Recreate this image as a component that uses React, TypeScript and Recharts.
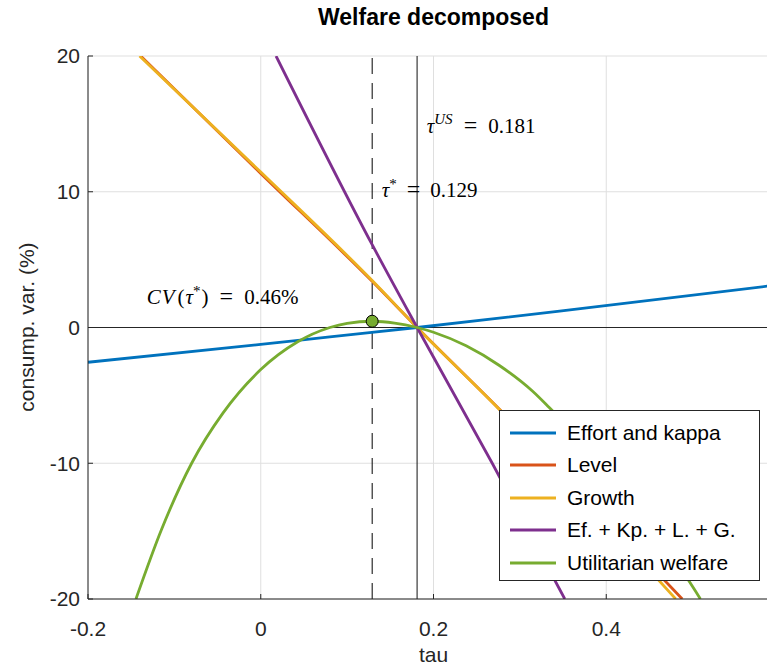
import React from 'react';
import { LineChart, Line, XAxis, YAxis, CartesianGrid, ReferenceLine, ReferenceDot } from 'recharts';

// ---- data ----
const effortTau = [-0.2, 0, 0.08, 0.181, 0.346, 0.6];
const effortCV = [-2.56, -1.25, -0.69, 0, 1.2, 3.15];

const levelTau = [-0.139, 0, 0.129, 0.181, 0.276, 0.488];
const levelCV = [20, 11.35, 3.4, 0, -6.0, -20];

const growthTau = [-0.1403, 0, 0.129, 0.181, 0.2763, 0.4805];
const growthCV = [20, 11.45, 3.46, 0, -6.04, -20];

const sumTau = [0.0177, 0.129, 0.181, 0.268, 0.352];
const sumCV = [20, 6.1, 0, -10, -20];

const welfareTau = [-0.1445, -0.115, -0.08, -0.0436, 0, 0.0428, 0.08, 0.1, 0.129, 0.155, 0.181, 0.2, 0.2378, 0.2763, 0.3148, 0.334, 0.4, 0.45, 0.496, 0.509];
const welfareCV = [-20, -14.9, -10, -6.29, -3.1, -1.05, 0, 0.31, 0.46, 0.33, 0, -0.35, -1.35, -2.8, -4.7, -5.9, -10.4, -14.5, -18.7, -20];

const seriesNames = ['Effort and kappa', 'Level', 'Growth', 'Ef. + Kp. + L. + G.', 'Utilitarian welfare'];
const seriesColors = ['#0072BD', '#D95319', '#EDB120', '#7E2F8E', '#77AC30'];

const xTicks = [-0.2, 0, 0.2, 0.4, 0.6];
const yTicks = [-20, -10, 0, 10, 20];
const xTickLabels = ['-0.2', '0', '0.2', '0.4', ''];
const yTickLabels = ['-20', '-10', '0', '10', '20'];

const tauStar = 0.129;
const tauUS = 0.181;
const cvStar = 0.46;

const toPoints = (xs: number[], ys: number[]) => xs.map((x, i) => ({ x, y: ys[i] }));

const series = [
  toPoints(effortTau, effortCV),
  toPoints(levelTau, levelCV),
  toPoints(growthTau, growthCV),
  toPoints(sumTau, sumCV),
  toPoints(welfareTau, welfareCV),
].map((data, i) => ({ data, name: seriesNames[i], color: seriesColors[i] }));

const AX = '#262626';
const SANS = "'Liberation Sans', Arial, Helvetica, sans-serif";
const SERIF = "'Liberation Serif', 'Times New Roman', serif";

const mathLabel = (kind: string) => (p: any) => {
  const vb = p && p.viewBox ? p.viewBox : { x: 0, y: 0, width: 0, height: 0 };
  const x = vb.x + (vb.width || 0) / 2;
  const y = vb.y + (vb.height || 0) / 2;
  const common = { x, y, fontFamily: SERIF, fontSize: 21, fill: '#000' } as any;
  if (kind === 'us') {
    return (
      <text {...common}>
        <tspan fontStyle="italic">τ</tspan>
        <tspan fontStyle="italic" fontSize={15} dy={-9}>US</tspan>
        <tspan dy={9} dx={11} fontSize={24}>=</tspan>
        <tspan dx={11}>0.181</tspan>
      </text>
    );
  }
  if (kind === 'star') {
    return (
      <text {...common}>
        <tspan fontStyle="italic">τ</tspan>
        <tspan fontSize={15} dy={-8}>*</tspan>
        <tspan dy={8} dx={10} fontSize={24}>=</tspan>
        <tspan dx={10}>0.129</tspan>
      </text>
    );
  }
  return (
    <text {...common}>
      <tspan fontStyle="italic">C</tspan>
      <tspan fontStyle="italic" dx={1}>V</tspan>
      <tspan dx={3}>(</tspan>
      <tspan fontStyle="italic" dx={1}>τ</tspan>
      <tspan fontSize={15} dy={-8}>*</tspan>
      <tspan dy={8} dx={1}>)</tspan>
      <tspan dx={11} fontSize={24}>=</tspan>
      <tspan dx={11}>0.46%</tspan>
    </text>
  );
};

const annotations = [
  { kind: 'us', tau: 0.1922, cv: 14.3 },
  { kind: 'star', tau: 0.1401, cv: 9.64 },
  { kind: 'cv', tau: -0.132, cv: 1.71 },
];

export default function App() {
  return (
    <div style={{ position: 'absolute', left: 0, top: 0, width: 767, height: 666, overflow: 'hidden', background: '#fff' }}>
      <div style={{ position: 'absolute', left: 88, width: 691, top: 5, textAlign: 'center', fontFamily: SANS, fontWeight: 'bold', fontSize: 23, lineHeight: '24px', color: '#000' }}>
        Welfare decomposed
      </div>
      <div style={{ position: 'absolute', left: 88, width: 691, top: 644, textAlign: 'center', fontFamily: SANS, fontSize: 21, lineHeight: '22px', color: AX }}>
        tau
      </div>
      <div style={{ position: 'absolute', left: 27 - 150, top: 327 - 11, width: 300, textAlign: 'center', fontFamily: SANS, fontSize: 21, lineHeight: '22px', color: AX, transform: 'rotate(-90deg)', transformOrigin: '150px 11px' }}>
        consump. var. (%)
      </div>
      <LineChart width={779} height={666} margin={{ top: 56, right: 0, bottom: 0, left: 0 }}>
        <CartesianGrid stroke="#dfdfdf" strokeWidth={1} />
        <XAxis
          xAxisId={0}
          dataKey="x"
          type="number"
          domain={[-0.2, 0.6]}
          ticks={xTicks}
          tickFormatter={(v: number) => xTickLabels[xTicks.indexOf(v)] ?? String(v)}
          allowDataOverflow
          height={67}
          tickSize={-5}
          tickMargin={27}
          axisLine={{ stroke: AX }}
          tickLine={{ stroke: AX }}
          tick={{ fill: AX, fontSize: 21, fontFamily: SANS }}
        />
        <XAxis
          xAxisId="top"
          orientation="top"
          dataKey="x"
          type="number"
          domain={[-0.2, 0.6]}
          ticks={xTicks}
          allowDataOverflow
          height={0}
          tickSize={-5}
          tick={false}
          axisLine={{ stroke: AX }}
          tickLine={{ stroke: AX }}
        />
        <YAxis
          type="number"
          domain={[-20, 20]}
          ticks={yTicks}
          tickFormatter={(v: number) => yTickLabels[yTicks.indexOf(v)] ?? String(v)}
          allowDataOverflow
          width={88}
          tickSize={-5}
          tickMargin={13}
          axisLine={{ stroke: AX }}
          tickLine={{ stroke: AX }}
          tick={{ fill: AX, fontSize: 21, fontFamily: SANS }}
        />
        <ReferenceLine y={0} stroke={AX} strokeWidth={1} />
        <ReferenceLine x={tauUS} stroke="#111" strokeWidth={1} />
        <ReferenceLine x={tauStar} stroke="#000" strokeWidth={1} strokeDasharray="16 9" />
        {series.map((s) => (
          <Line
            key={s.name}
            data={s.data}
            dataKey="y"
            name={s.name}
            type="monotone"
            stroke={s.color}
            strokeWidth={2.8}
            dot={false}
            activeDot={false}
            isAnimationActive={false}
          />
        ))}
        <ReferenceDot x={tauStar} y={cvStar} r={6} fill="#77AC30" stroke="#000" strokeWidth={1} />
        {annotations.map((a) => (
          <ReferenceDot key={a.kind} x={a.tau} y={a.cv} r={1} fill="none" stroke="none" label={{ content: mathLabel(a.kind) }} />
        ))}
      </LineChart>
      <div style={{ position: 'absolute', left: 499, top: 410, width: 261, height: 171, boxSizing: 'border-box', border: '1px solid #262626', background: '#fff' }}>
        {series.map((s, i) => (
          <div key={s.name} style={{ position: 'absolute', left: 0, top: 22 + i * 32.4 - 12, height: 24, width: 259, display: 'flex', alignItems: 'center' }}>
            <svg width={67} height={24} style={{ flex: 'none' }}>
              <line x1={10} x2={56} y1={12} y2={12} stroke={s.color} strokeWidth={2.8} />
            </svg>
            <span style={{ fontFamily: SANS, fontSize: 21, color: '#000', whiteSpace: 'nowrap' }}>{s.name}</span>
          </div>
        ))}
      </div>
    </div>
  );
}
